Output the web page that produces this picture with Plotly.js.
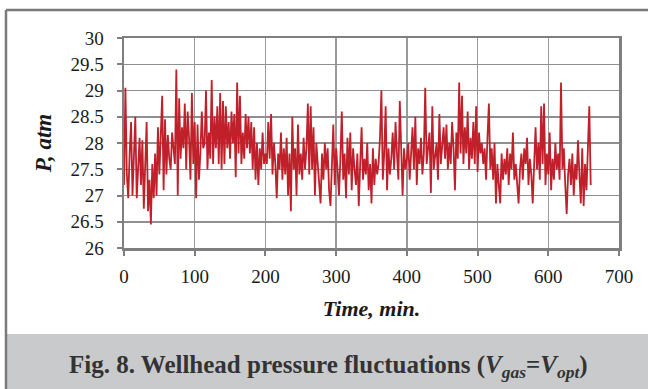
<!DOCTYPE html>
<html>
<head>
<meta charset="utf-8">
<script src="https://cdn.plot.ly/plotly-3.0.1.min.js"></script>
<style>html,body{margin:0;padding:0;background:#fff;}#chart{width:648px;height:389px;}</style>
</head>
<body>
<div id="chart"></div>
<script>
// Sampling of the series (minutes)
const timeStart = 0;
const timeStep = 2;

// Wellhead pressure, atm (one value every 2 min)
const pressure = [
  27.2, 29.05, 27.4, 26.95, 27.8, 28.4, 27.0, 27.7, 28.5, 26.95,
  27.6, 28.1, 27.2, 28.05, 26.75, 27.55, 28.4, 26.7, 27.3, 26.45,
  27.6, 26.95, 27.8, 27.0, 28.3, 27.4, 28.0, 28.9, 27.1, 28.45,
  27.4, 28.15, 27.7, 27.5, 28.2, 27.8, 27.6, 29.4, 27.0, 28.85,
  27.7, 28.3, 27.9, 28.75, 27.5, 28.6, 28.1, 27.3, 28.95, 27.6,
  28.4, 26.95, 28.35, 27.3, 27.8, 28.6, 27.9, 28.0, 29.0, 27.5,
  28.2, 27.7, 29.2, 27.6, 28.5, 27.9, 28.7, 27.6, 28.95, 27.5,
  28.8, 27.6, 28.7, 27.9, 28.4, 27.7, 28.6, 28.0, 28.55, 27.35,
  29.15, 27.8, 28.9, 27.6, 28.2, 27.7, 28.55, 27.9, 28.5, 27.8,
  28.4, 27.5, 28.3, 27.3, 28.0, 27.2, 27.9, 27.5, 28.2, 27.6,
  27.8, 27.6, 28.4, 27.7, 28.55, 27.4, 28.0, 27.6, 26.95, 27.8,
  27.5, 28.2, 27.3, 27.9, 27.4, 28.1, 27.0, 27.8, 26.7, 28.5,
  27.5, 27.9, 27.0, 28.35, 27.4, 27.8, 27.3, 28.1, 27.5, 27.9,
  28.75, 27.4, 28.7, 27.5, 28.3, 27.0, 28.0, 27.6, 27.3, 26.85,
  27.8, 27.3, 28.0, 27.5, 27.9, 27.1, 26.8, 27.6, 28.35, 27.2,
  27.9, 27.5, 27.0, 27.7, 28.6, 27.3, 27.8, 26.95, 28.1, 27.4,
  28.2, 27.1, 27.9, 27.5, 27.2, 27.8, 26.8, 27.6, 28.3, 27.3,
  27.7, 27.4, 28.0, 27.1, 27.6, 26.85, 27.9, 27.2, 27.7, 27.4,
  27.6, 28.1, 29.0, 27.3, 27.8, 28.7, 27.1, 27.9, 27.4, 27.7,
  28.2, 27.5, 28.4, 27.8, 27.3, 28.8, 27.6, 27.0, 27.9, 27.5,
  27.7, 28.0, 27.3, 27.8, 28.3, 27.5, 28.5, 27.2, 27.9, 27.6,
  28.1, 27.4, 27.8, 29.05, 27.6, 27.9, 28.2, 27.05, 28.7, 27.5,
  27.8, 28.0, 27.3, 28.55, 27.6, 27.9, 28.3, 27.7, 28.35, 27.5,
  28.0, 27.6, 28.4, 27.9, 27.1, 28.2, 27.7, 29.15, 27.8, 28.9,
  27.6, 28.3, 27.8, 28.6, 27.5, 28.1, 27.7, 28.4, 27.6, 28.7,
  27.45, 28.2, 27.8, 28.0, 27.6, 27.9, 27.3, 28.1, 28.75, 27.5,
  27.9, 27.3, 28.0, 26.85, 27.6, 27.2, 26.85, 27.8, 27.3, 27.7,
  27.4, 27.9, 27.2, 27.8, 27.5, 28.2, 27.3, 27.6, 27.1, 26.85,
  27.5, 27.8, 27.3, 27.9, 27.6, 28.1, 27.2, 27.7, 27.4, 26.85,
  27.6, 28.3, 27.5, 28.0, 27.3, 28.7, 27.6, 28.75, 27.2, 27.8,
  27.4, 28.2, 27.1, 27.7, 27.3, 28.0, 27.5, 27.8, 27.3, 29.15,
  27.5, 27.9, 27.2, 26.65, 27.4, 27.7, 27.2, 27.8, 27.0, 27.6,
  27.3, 28.05, 27.4, 26.85, 27.9, 26.8, 27.6, 27.1, 27.9, 28.7,
  27.2
];

const xTicks = [0, 100, 200, 300, 400, 500, 600, 700];
const yTicks = [26, 26.5, 27, 27.5, 28, 28.5, 29, 29.5, 30];
const yTickLabels = ["26", "26.5", "27", "27.5", "28", "28.5", "29", "29.5", "30"];

const times = pressure.map((_, i) => timeStart + i * timeStep);

const serif = "Liberation Serif";

const trace = {
  x: times,
  y: pressure,
  type: "scatter",
  mode: "lines",
  line: {color: "#c0202a", width: 1.8},
  hoverinfo: "skip"
};

const layout = {
  width: 648,
  height: 389,
  margin: {l: 124, r: 29, t: 38, b: 141},
  paper_bgcolor: "#ffffff",
  plot_bgcolor: "#ffffff",
  showlegend: false,
  xaxis: {
    range: [0, 700],
    tickvals: xTicks,
    ticktext: xTicks.map(String),
    showgrid: true,
    gridcolor: "#9a9a9a",
    gridwidth: 1.5,
    showline: true,
    linecolor: "#7f7f7f",
    linewidth: 2.5,
    mirror: true,
    ticks: "outside",
    ticklen: 5,
    tickwidth: 2,
    tickcolor: "#7f7f7f",
    ticklabelstandoff: 5,
    zeroline: false,
    tickfont: {family: serif, size: 19, color: "#1a1a1a"},
    title: {text: "<b><i>Time, min.</i></b>", font: {family: serif, size: 22, color: "#1a1a1a"}, standoff: 15}
  },
  yaxis: {
    range: [26, 30],
    tickvals: yTicks,
    ticktext: yTickLabels,
    showgrid: true,
    gridcolor: "#8f8f8f",
    gridwidth: 1.5,
    showline: true,
    linecolor: "#7f7f7f",
    linewidth: 2.5,
    mirror: true,
    ticks: "outside",
    ticklen: 5,
    tickwidth: 2,
    tickcolor: "#7f7f7f",
    ticklabelstandoff: 9,
    zeroline: false,
    tickfont: {family: serif, size: 19, color: "#1a1a1a"},
    title: {text: "<b><i>P, atm</i></b>", font: {family: serif, size: 23, color: "#1a1a1a"}, standoff: 13}
  },
  shapes: [
    {type: "rect", xref: "paper", yref: "paper", x0: -0.2364, x1: 1.07, y0: -0.4095, y1: -0.68,
     fillcolor: "#c9cacc", line: {width: 0}, layer: "below"},
    {type: "line", xref: "paper", yref: "paper", x0: -0.2384, x1: -0.2384, y0: 1.1333, y1: -0.68,
     line: {color: "#7a7a7a", width: 2.5}},
    {type: "line", xref: "paper", yref: "paper", x0: -0.2384, x1: 1.07, y0: 1.1333, y1: 1.1333,
     line: {color: "#7a7a7a", width: 2.5}}
  ],
  annotations: [
    {xref: "paper", yref: "paper", x: 0.414, y: -0.562, xanchor: "center", yanchor: "middle",
     showarrow: false,
     text: "<b>Fig. 8. Wellhead pressure fluctuations (<i>V</i><sub><i>gas</i></sub>=<i>V</i><sub><i>opt</i></sub>)</b>",
     font: {family: serif, size: 25, color: "#333333"}}
  ]
};

Plotly.newPlot("chart", [trace], layout, {staticPlot: true, displayModeBar: false});
</script>
</body>
</html>
